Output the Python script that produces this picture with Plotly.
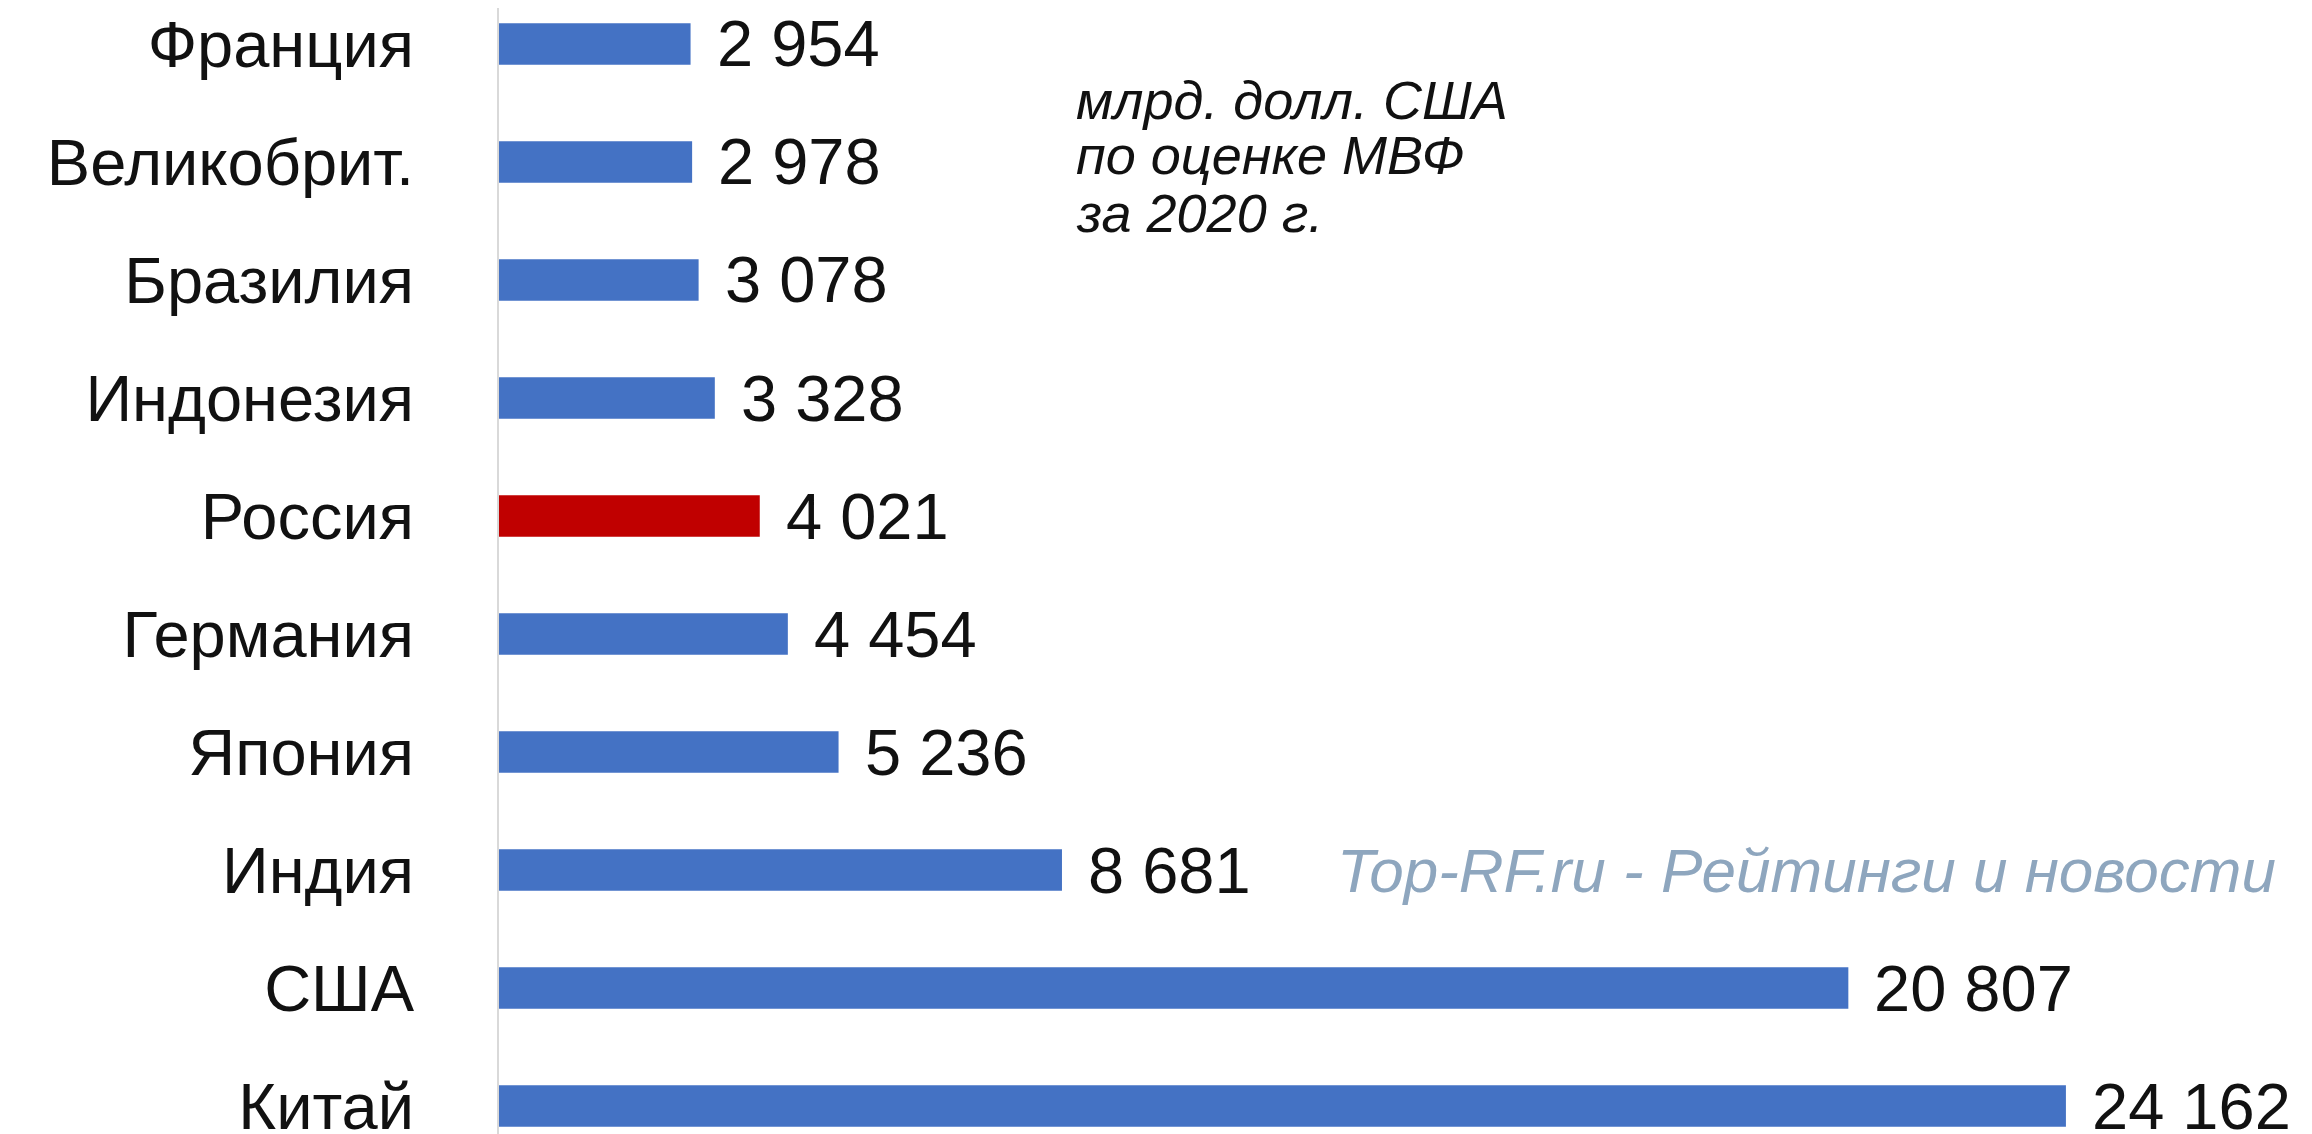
import plotly.graph_objects as go

countries = ["Франция", "Великобрит.", "Бразилия", "Индонезия", "Россия",
             "Германия", "Япония", "Индия", "США", "Китай"]
gdp = [2954, 2978, 3078, 3328, 4021, 4454, 5236, 8681, 20807, 24162]
value_labels = ["2 954", "2 978", "3 078", "3 328", "4 021",
                "4 454", "5 236", "8 681", "20 807", "24 162"]
highlight = "Россия"
note_lines = ["млрд. долл. США", "по оценке МВФ", "за 2020 г."]
watermark = "Top-RF.ru - Рейтинги и новости"

BLUE = "#4472C4"
RED = "#C00000"
colors = [RED if c == highlight else BLUE for c in countries]

fig = go.Figure()
fig.add_trace(go.Bar(
    x=gdp, y=countries, orientation="h",
    marker=dict(color=colors, line=dict(width=0)),
    width=0.35, showlegend=False, hoverinfo="skip",
))

for c, v, t in zip(countries, gdp, value_labels):
    fig.add_annotation(x=v, y=c, xref="x", yref="y", text=t, showarrow=False,
                       xanchor="left", yanchor="middle", xshift=24,
                       font=dict(family="Liberation Sans, Arial", size=65, color="#111111"))

note_y = [0.919, 0.870, 0.819]
for line, yy in zip(note_lines, note_y):
    fig.add_annotation(x=0.316, y=yy, xref="paper", yref="paper", text=f"<i>{line}</i>",
                       showarrow=False, xanchor="left", yanchor="middle",
                       font=dict(family="Liberation Sans, Arial", size=54, color="#111111"))

fig.add_annotation(x=0.459, y="Индия", xref="paper", yref="y", text=f"<i>{watermark}</i>",
                   showarrow=False, xanchor="left", yanchor="middle",
                   font=dict(family="Liberation Sans, Arial", size=62, color="#8EA6BE"))

fig.update_layout(
    width=2312, height=1134,
    margin=dict(l=491, r=0, t=0, b=0, autoexpand=False),
    paper_bgcolor="white", plot_bgcolor="white",
    bargap=0.65,
)
fig.update_xaxes(range=[0, 28080], visible=False, showgrid=False, zeroline=False,
                 automargin=False)
fig.update_yaxes(
    type="category", categoryorder="array", categoryarray=countries,
    range=[9.305, -0.305], automargin=False,
    showgrid=False, zeroline=False,
    showline=True, linecolor="#D9D9D9", linewidth=2,
    ticks="", ticklabelstandoff=70,
    tickfont=dict(family="Liberation Sans, Arial", size=65, color="#111111"),
)

fig.write_html("out.html")
